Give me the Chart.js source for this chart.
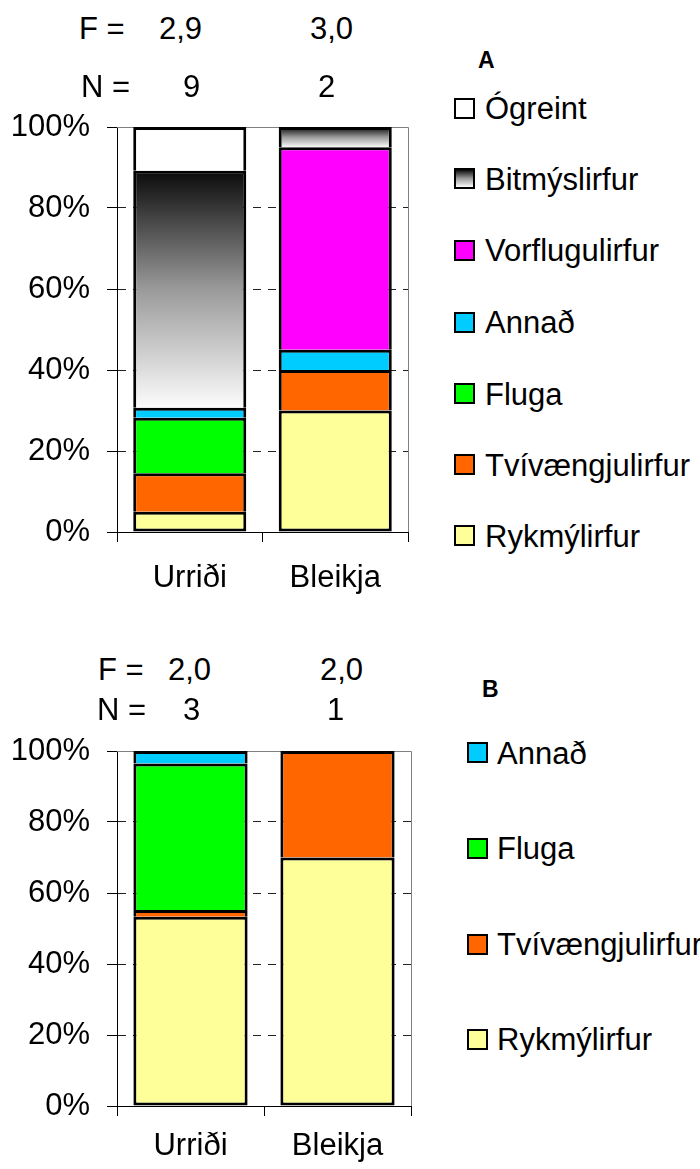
<!DOCTYPE html>
<html>
<head>
<meta charset="utf-8">
<script src="https://cdn.jsdelivr.net/npm/chart.js@4/dist/chart.umd.min.js"></script>
<style>
  body { margin:0; width:700px; height:1169px; overflow:hidden; background:#fff;
         font-family:"Liberation Sans", Arial, sans-serif; color:#000; }
  .t { position:absolute; font-size:31px; line-height:31px; white-space:nowrap; }
  .ttl { position:absolute; font-weight:bold; font-size:23px; line-height:23px; }
  .box { position:absolute; width:17px; height:17px; border:2px solid #000; }
  canvas { position:absolute; left:0; }
</style>
</head>
<body>
<canvas id="chartA" width="430" height="520" style="top:100px"></canvas>
<canvas id="chartB" width="430" height="449" style="top:720px"></canvas>
<div id="txt"></div>
<script>
// fiskar
var groups = ['Urriði', 'Bleikja'];

// A - hlutfall (%) fæðuhópa
var rykA    = [5.0, 30.0];
var tviA    = [9.5, 10.0];
var flugaA  = [13.7, 0];
var annadA  = [2.5, 5.0];
var vorA    = [0, 50.0];
var bitA    = [58.5, 5.0];
var ograA   = [10.8, 0];

// B
var rykB    = [53.3, 70.0];
var tviB    = [1.9, 30.0];
var flugaB  = [41.3, 0];
var annadB  = [3.5, 0];

// F og N fyrir ofan súlurnar
var fA = ['2,9', '3,0'];
var nA = ['9', '2'];
var fB = ['2,0', '2,0'];
var nB = ['3', '1'];

var FONT = '"Liberation Sans", Arial, sans-serif';

// halli fyrir bitmýslirfur, svart efst -> hvítt neðst
function bitFill(c) {
	var chart = c.chart;
	var y = chart.scales.y;
	if (!y || c.type !== 'data') return '#808080';
	var lo = 0;
	for (var k = 0; k < c.datasetIndex; k++) lo += chart.data.datasets[k].data[c.dataIndex] || 0;
	var hi = lo + (chart.data.datasets[c.datasetIndex].data[c.dataIndex] || 0);
	var y0 = y.getPixelForValue(hi), y1 = y.getPixelForValue(lo);
	if (!isFinite(y0) || !isFinite(y1) || y0 === y1) return '#808080';
	var g = chart.ctx.createLinearGradient(0, y0, 0, y1);
	g.addColorStop(0, '#0a0a0a');
	g.addColorStop(0.5, '#9a9a9a');
	g.addColorStop(1, '#fcfcfc');
	return g;
}

var frame = {
	id: 'frame',
	beforeDatasetsDraw: function(chart){
		var ctx = chart.ctx, a = chart.chartArea;
		ctx.save();
		ctx.strokeStyle = '#808080';
		ctx.lineWidth = 1;
		ctx.beginPath();
		ctx.moveTo(a.left, a.top + 0.5);
		ctx.lineTo(Math.round(a.right) + 0.5, a.top + 0.5);
		ctx.lineTo(Math.round(a.right) + 0.5, a.bottom);
		ctx.stroke();
		ctx.restore();
	}
};

function ds(label, data, color, first){
	return {
		label: label,
		// 0 -> null svo tómar sneiðar teiknist ekki
		data: data.map(function(v){ return v === 0 ? null : v; }),
		backgroundColor: color,
		borderColor: '#000',
		borderWidth: 3,
		borderSkipped: first ? false : 'start',
		barPercentage: 0.777,
		categoryPercentage: 1.0
	};
}

function makeChart(id, datasets, xHeight, labelPad, padTop, padRight){
	return new Chart(document.getElementById(id), {
		type: 'bar',
		data: { labels: groups, datasets: datasets },
		plugins: [frame],
		options: {
			responsive: false,
			devicePixelRatio: 1,
			animation: false,
			events: [],
			layout: { padding: { top: padTop, right: padRight, bottom: 0, left: 0 } },
			plugins: { legend: { display: false }, tooltip: { enabled: false } },
			scales: {
				x: {
					stacked: true,
					grid: { offset: true, drawOnChartArea: false, tickLength: 10, color: '#000' },
					border: { color: '#000', width: 1 },
					ticks: { color: '#000', font: { family: FONT, size: 31 }, padding: labelPad },
					afterFit: function(s){ s.height = xHeight; }
				},
				y: {
					stacked: true,
					min: 0, max: 100,
					grid: {
						tickLength: 10,
						tickColor: '#000',
						color: function(c){ return (c.tick && (c.tick.value === 0 || c.tick.value === 100)) ? 'rgba(0,0,0,0)' : '#222'; },
						lineWidth: 1
					},
					border: { color: '#000', width: 1, dash: [8, 7] },
					ticks: {
						stepSize: 20, color: '#000', padding: 17,
						font: { family: FONT, size: 31 },
						callback: function(v){ return v + '%'; }
					},
					afterFit: function(s){ s.width = 117; s.paddingTop = 0; s.paddingBottom = 0; }
				}
			}
		}
	});
}

var chartA = makeChart('chartA', [
	ds('Rykmýlirfur', rykA, '#FFFF99', true),
	ds('Tvívængjulirfur', tviA, '#FF6600'),
	ds('Fluga', flugaA, '#00FF00'),
	ds('Annað', annadA, '#00CCFF'),
	ds('Vorflugulirfur', vorA, '#FF00FF'),
	ds('Bitmýslirfur', bitA, bitFill),
	ds('Ógreint', ograA, '#FFFFFF')
], 88, 18, 27, 22);

var chartB = makeChart('chartB', [
	ds('Rykmýlirfur', rykB, '#FFFF99', true),
	ds('Tvívængjulirfur', tviB, '#FF6600'),
	ds('Fluga', flugaB, '#00FF00'),
	ds('Annað', annadB, '#00CCFF')
], 63, 12, 31, 19);

// texti: F/N línur og skýringar
var txt = document.getElementById('txt');
function put(cls, s, left, top){
	var d = document.createElement('div');
	d.className = cls;
	d.textContent = s;
	d.style.left = left + 'px';
	d.style.top = top + 'px';
	txt.appendChild(d);
	return d;
}

put('t', 'F =', 79, 13);
put('t', fA[0], 159, 13);
put('t', fA[1], 310, 13);
put('t', 'N =', 81, 71);
put('t', nA[0], 183, 71);
put('t', nA[1], 318, 71);

put('t', 'F =', 98, 654);
put('t', fB[0], 168, 654);
put('t', fB[1], 320, 654);
put('t', 'N =', 97, 694);
put('t', nB[0], 183, 694);
put('t', nB[1], 327, 694);

put('ttl', 'A', 478, 49);
put('ttl', 'B', 482, 678);

function legend(chart, boxX, textX, centers){
	var sets = chart.data.datasets.slice().reverse();
	sets.forEach(function(s, i){
		var b = document.createElement('div');
		b.className = 'box';
		b.style.left = boxX + 'px';
		b.style.top = (centers[i] - 10.5) + 'px';
		b.style.background = typeof s.backgroundColor === 'function'
			? 'linear-gradient(#0a0a0a, #9a9a9a 50%, #fcfcfc)' : s.backgroundColor;
		txt.appendChild(b);
		put('t', s.label, textX, centers[i] - 15);
	});
}
legend(chartA, 454, 485, [108, 178.5, 250, 322, 393.5, 464.5, 535.5]);
legend(chartB, 467, 497, [752.5, 848, 944, 1039]);
</script>
</body>
</html>
